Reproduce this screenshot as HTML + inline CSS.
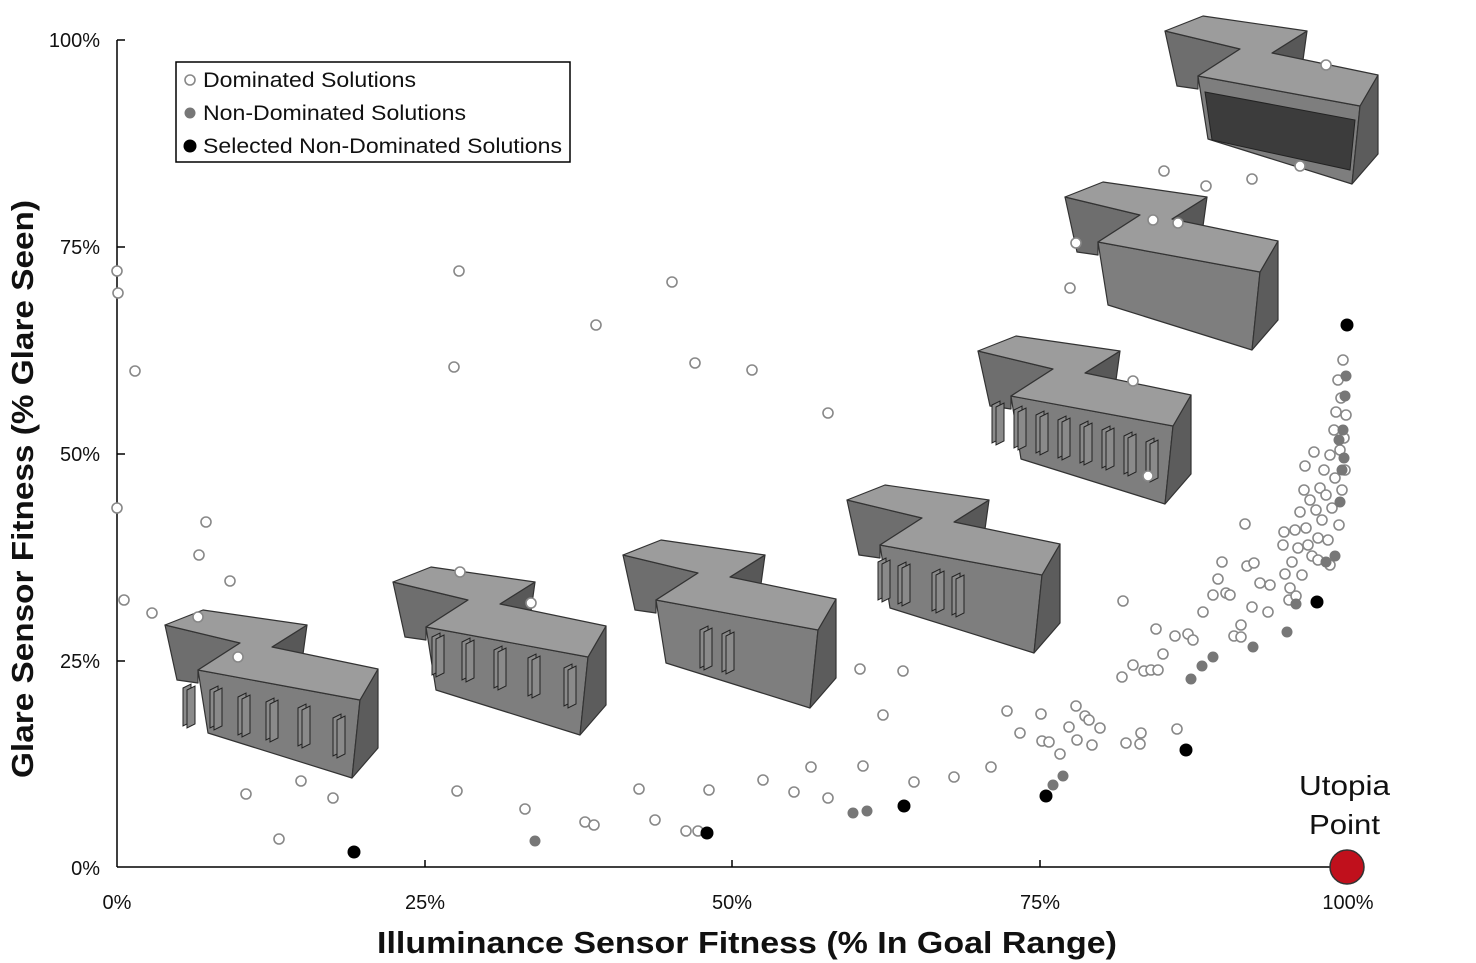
<!DOCTYPE html>
<html><head><meta charset="utf-8"><style>
html,body{margin:0;padding:0;background:#fff;}
svg{display:block;font-family:"Liberation Sans",sans-serif;}
</style></head><body>
<svg width="1476" height="963" viewBox="0 0 1476 963" xmlns="http://www.w3.org/2000/svg">
<defs>
<g id="bld" stroke="#333" stroke-width="1.2" stroke-linejoin="round">
  <polygon points="0,17 75,35 33,62 33,75 12,72" fill="#6e6e6e"/>
  <polygon points="142,17 107,39 138,46" fill="#585858"/>
  <polygon points="33,62 195,92 187,170 43,125" fill="#7e7e7e"/>
  <polygon points="195,92 213,61 213,140 187,170" fill="#5c5c5c"/>
  <polygon points="0,17 38,2 142,17 107,39 213,61 195,92 33,62 75,35" fill="#9c9c9c"/>
</g>
<g id="fin" fill="#8a8a8a" stroke="#222" stroke-width="1">
  <polygon points="0,0 8,-4 8,34 0,38"/>
  <polygon points="4,2 12,-2 12,36 4,40"/>
</g>
</defs>
<g stroke="#000" stroke-width="1.5">
<line x1="117" y1="40" x2="117" y2="867"/>
<line x1="117" y1="867" x2="1348" y2="867"/>
<line x1="117" y1="40" x2="125" y2="40"/>
<line x1="117" y1="247" x2="125" y2="247"/>
<line x1="117" y1="454" x2="125" y2="454"/>
<line x1="117" y1="661" x2="125" y2="661"/>
<line x1="425" y1="867" x2="425" y2="860"/>
<line x1="732" y1="867" x2="732" y2="860"/>
<line x1="1040" y1="867" x2="1040" y2="860"/>
<line x1="1348" y1="867" x2="1348" y2="860"/>
</g>
<g font-size="20" fill="#111" text-anchor="end">
<text x="100" y="47">100%</text><text x="100" y="254">75%</text><text x="100" y="461">50%</text><text x="100" y="668">25%</text><text x="100" y="875">0%</text>
</g>
<g font-size="20" fill="#111" text-anchor="middle">
<text x="117" y="909">0%</text><text x="425" y="909">25%</text><text x="732" y="909">50%</text><text x="1040" y="909">75%</text><text x="1348" y="909">100%</text>
</g>
<text x="377" y="953" font-size="31" font-weight="bold" fill="#111" textLength="740" lengthAdjust="spacingAndGlyphs">Illuminance Sensor Fitness (% In Goal Range)</text>
<text transform="translate(33,778) rotate(-90)" font-size="31" font-weight="bold" fill="#111" textLength="578" lengthAdjust="spacingAndGlyphs">Glare Sensor Fitness (% Glare Seen)</text>

<use href="#bld" x="165" y="608"/>
<g><use href="#fin" x="183" y="688"/><use href="#fin" x="210" y="690"/><use href="#fin" x="238" y="697"/><use href="#fin" x="266" y="702"/><use href="#fin" x="298" y="708"/><use href="#fin" x="333" y="718"/></g>
<use href="#bld" x="393" y="565"/>
<g><use href="#fin" x="432" y="637"/><use href="#fin" x="462" y="642"/><use href="#fin" x="494" y="650"/><use href="#fin" x="528" y="658"/><use href="#fin" x="564" y="668"/></g>
<use href="#bld" x="623" y="538"/>
<g><use href="#fin" x="700" y="630"/><use href="#fin" x="722" y="634"/></g>
<use href="#bld" x="847" y="483"/>
<g><use href="#fin" x="878" y="562"/><use href="#fin" x="898" y="566"/><use href="#fin" x="932" y="573"/><use href="#fin" x="952" y="577"/></g>
<use href="#bld" x="978" y="334"/>
<g><use href="#fin" x="992" y="405"/><use href="#fin" x="1014" y="410"/><use href="#fin" x="1036" y="415"/><use href="#fin" x="1058" y="420"/><use href="#fin" x="1080" y="425"/><use href="#fin" x="1102" y="430"/><use href="#fin" x="1124" y="436"/><use href="#fin" x="1146" y="442"/></g>
<use href="#bld" x="1065" y="180"/>
<use href="#bld" x="1165" y="14"/>
<polygon points="1205,92 1355,120 1350,170 1212,140" fill="#3c3c3c" stroke="#222"/>

<g fill="#fff" stroke="#888" stroke-width="1.6">
<circle cx="117" cy="271" r="5"/><circle cx="118" cy="293" r="5"/><circle cx="135" cy="371" r="5"/><circle cx="117" cy="508" r="5"/><circle cx="124" cy="600" r="5"/><circle cx="152" cy="613" r="5"/><circle cx="206" cy="522" r="5"/><circle cx="199" cy="555" r="5"/><circle cx="230" cy="581" r="5"/><circle cx="198" cy="617" r="5"/><circle cx="238" cy="657" r="5"/><circle cx="246" cy="794" r="5"/><circle cx="279" cy="839" r="5"/><circle cx="301" cy="781" r="5"/><circle cx="333" cy="798" r="5"/><circle cx="459" cy="271" r="5"/><circle cx="454" cy="367" r="5"/><circle cx="460" cy="572" r="5"/><circle cx="531" cy="603" r="5"/><circle cx="457" cy="791" r="5"/><circle cx="525" cy="809" r="5"/><circle cx="585" cy="822" r="5"/><circle cx="594" cy="825" r="5"/><circle cx="596" cy="325" r="5"/><circle cx="672" cy="282" r="5"/><circle cx="695" cy="363" r="5"/><circle cx="752" cy="370" r="5"/><circle cx="828" cy="413" r="5"/><circle cx="639" cy="789" r="5"/><circle cx="655" cy="820" r="5"/><circle cx="686" cy="831" r="5"/><circle cx="698" cy="831" r="5"/><circle cx="709" cy="790" r="5"/><circle cx="763" cy="780" r="5"/><circle cx="794" cy="792" r="5"/><circle cx="811" cy="767" r="5"/><circle cx="828" cy="798" r="5"/><circle cx="860" cy="669" r="5"/><circle cx="863" cy="766" r="5"/><circle cx="883" cy="715" r="5"/><circle cx="903" cy="671" r="5"/><circle cx="914" cy="782" r="5"/><circle cx="954" cy="777" r="5"/><circle cx="991" cy="767" r="5"/><circle cx="1007" cy="711" r="5"/><circle cx="1020" cy="733" r="5"/><circle cx="1041" cy="714" r="5"/><circle cx="1042" cy="741" r="5"/><circle cx="1049" cy="742" r="5"/><circle cx="1060" cy="754" r="5"/><circle cx="1069" cy="727" r="5"/><circle cx="1076" cy="706" r="5"/><circle cx="1077" cy="740" r="5"/><circle cx="1085" cy="716" r="5"/><circle cx="1089" cy="720" r="5"/><circle cx="1092" cy="745" r="5"/><circle cx="1100" cy="728" r="5"/><circle cx="1123" cy="601" r="5"/><circle cx="1122" cy="677" r="5"/><circle cx="1126" cy="743" r="5"/><circle cx="1133" cy="665" r="5"/><circle cx="1140" cy="744" r="5"/><circle cx="1141" cy="733" r="5"/><circle cx="1144" cy="671" r="5"/><circle cx="1151" cy="670" r="5"/><circle cx="1158" cy="670" r="5"/><circle cx="1163" cy="654" r="5"/><circle cx="1156" cy="629" r="5"/><circle cx="1175" cy="636" r="5"/><circle cx="1177" cy="729" r="5"/><circle cx="1188" cy="634" r="5"/><circle cx="1193" cy="640" r="5"/><circle cx="1203" cy="612" r="5"/><circle cx="1213" cy="595" r="5"/><circle cx="1218" cy="579" r="5"/><circle cx="1222" cy="562" r="5"/><circle cx="1226" cy="593" r="5"/><circle cx="1230" cy="595" r="5"/><circle cx="1234" cy="636" r="5"/><circle cx="1241" cy="625" r="5"/><circle cx="1241" cy="637" r="5"/><circle cx="1245" cy="524" r="5"/><circle cx="1247" cy="566" r="5"/><circle cx="1252" cy="607" r="5"/><circle cx="1254" cy="563" r="5"/><circle cx="1260" cy="583" r="5"/><circle cx="1268" cy="612" r="5"/><circle cx="1270" cy="585" r="5"/><circle cx="1283" cy="545" r="5"/><circle cx="1285" cy="574" r="5"/><circle cx="1289" cy="600" r="5"/><circle cx="1290" cy="588" r="5"/>
<circle cx="1070" cy="288" r="5"/><circle cx="1076" cy="243" r="5"/><circle cx="1133" cy="381" r="5"/><circle cx="1148" cy="476" r="5"/><circle cx="1153" cy="220" r="5"/><circle cx="1164" cy="171" r="5"/><circle cx="1178" cy="223" r="5"/><circle cx="1206" cy="186" r="5"/><circle cx="1252" cy="179" r="5"/><circle cx="1326" cy="65" r="5"/><circle cx="1300" cy="166" r="5"/>
<circle cx="1292" cy="562" r="5"/><circle cx="1295" cy="530" r="5"/><circle cx="1298" cy="548" r="5"/><circle cx="1300" cy="512" r="5"/><circle cx="1302" cy="575" r="5"/><circle cx="1305" cy="466" r="5"/><circle cx="1306" cy="528" r="5"/><circle cx="1308" cy="545" r="5"/><circle cx="1310" cy="500" r="5"/><circle cx="1312" cy="556" r="5"/><circle cx="1314" cy="452" r="5"/><circle cx="1316" cy="510" r="5"/><circle cx="1318" cy="538" r="5"/><circle cx="1320" cy="488" r="5"/><circle cx="1322" cy="520" r="5"/><circle cx="1324" cy="470" r="5"/><circle cx="1326" cy="495" r="5"/><circle cx="1328" cy="540" r="5"/><circle cx="1330" cy="455" r="5"/><circle cx="1332" cy="508" r="5"/><circle cx="1334" cy="430" r="5"/><circle cx="1335" cy="478" r="5"/><circle cx="1336" cy="412" r="5"/><circle cx="1338" cy="380" r="5"/><circle cx="1339" cy="525" r="5"/><circle cx="1340" cy="450" r="5"/><circle cx="1341" cy="398" r="5"/><circle cx="1342" cy="490" r="5"/><circle cx="1343" cy="360" r="5"/><circle cx="1344" cy="438" r="5"/><circle cx="1345" cy="470" r="5"/><circle cx="1346" cy="415" r="5"/><circle cx="1304" cy="490" r="5"/><circle cx="1318" cy="560" r="5"/><circle cx="1296" cy="596" r="5"/><circle cx="1284" cy="532" r="5"/><circle cx="1330" cy="565" r="5"/>
</g>
<g fill="#777">
<circle cx="535" cy="841" r="5.5"/><circle cx="853" cy="813" r="5.5"/><circle cx="867" cy="811" r="5.5"/><circle cx="1053" cy="785" r="5.5"/><circle cx="1063" cy="776" r="5.5"/><circle cx="1191" cy="679" r="5.5"/><circle cx="1202" cy="666" r="5.5"/><circle cx="1213" cy="657" r="5.5"/><circle cx="1253" cy="647" r="5.5"/><circle cx="1287" cy="632" r="5.5"/><circle cx="1296" cy="604" r="5.5"/><circle cx="1326" cy="562" r="5.5"/><circle cx="1335" cy="556" r="5.5"/><circle cx="1340" cy="502" r="5.5"/><circle cx="1342" cy="470" r="5.5"/><circle cx="1343" cy="430" r="5.5"/><circle cx="1345" cy="396" r="5.5"/><circle cx="1346" cy="376" r="5.5"/><circle cx="1344" cy="458" r="5.5"/><circle cx="1339" cy="440" r="5.5"/>
</g>
<g fill="#000">
<circle cx="354" cy="852" r="6.5"/><circle cx="707" cy="833" r="6.5"/><circle cx="904" cy="806" r="6.5"/><circle cx="1046" cy="796" r="6.5"/><circle cx="1186" cy="750" r="6.5"/><circle cx="1317" cy="602" r="6.5"/><circle cx="1347" cy="325" r="6.5"/>
</g>
<circle cx="1347" cy="867" r="17" fill="#c0101c" stroke="#333" stroke-width="1.5"/>
<text x="1299" y="795" font-size="28" fill="#111" textLength="91" lengthAdjust="spacingAndGlyphs">Utopia</text>
<text x="1309" y="834" font-size="28" fill="#111" textLength="71" lengthAdjust="spacingAndGlyphs">Point</text>

<rect x="176" y="62" width="394" height="100" fill="#fff" stroke="#000" stroke-width="1.5"/>
<circle cx="190" cy="80" r="5" fill="#fff" stroke="#888" stroke-width="1.6"/>
<circle cx="190" cy="113" r="5.5" fill="#777"/>
<circle cx="190" cy="146" r="6.5" fill="#000"/>
<g font-size="21" fill="#111">
<text x="203" y="87" textLength="213" lengthAdjust="spacingAndGlyphs">Dominated Solutions</text>
<text x="203" y="120" textLength="263" lengthAdjust="spacingAndGlyphs">Non-Dominated Solutions</text>
<text x="203" y="153" textLength="359" lengthAdjust="spacingAndGlyphs">Selected Non-Dominated Solutions</text>
</g>
</svg>
</body></html>
